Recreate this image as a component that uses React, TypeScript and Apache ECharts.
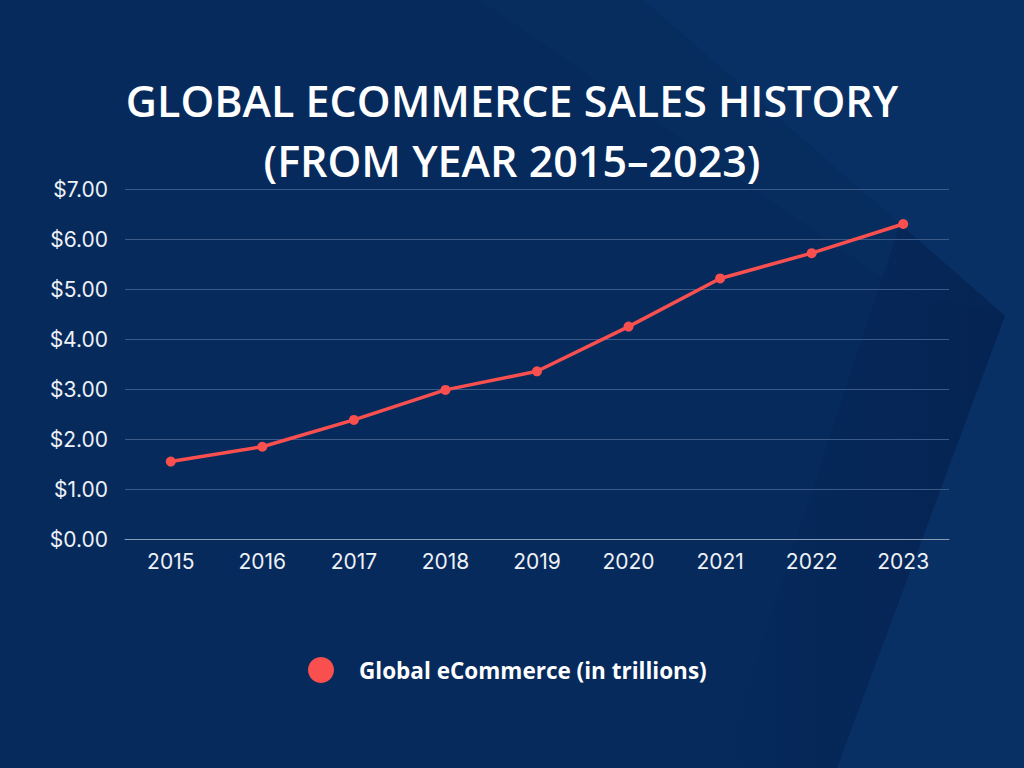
import React, { useEffect, useRef } from "react";
import * as echarts from "echarts";

const years = ["2015", "2016", "2017", "2018", "2019", "2020", "2021", "2022", "2023"];
const sales = [1.548, 1.845, 2.382, 2.982, 3.354, 4.248, 5.211, 5.717, 6.3];
const seriesName = "Global eCommerce (in trillions)";
const titleText = "GLOBAL ECOMMERCE SALES HISTORY\n(FROM YEAR 2015–2023)";

export default function App() {
  const ref = useRef<HTMLDivElement>(null);
  useEffect(() => {
    if (!ref.current) return;
    const chart = echarts.init(ref.current, null, { renderer: "svg" });
    chart.setOption({
      animation: false,
      backgroundColor: "#062a5c",
      graphic: [
        {
          type: "polygon",
          silent: true,
          z: -10,
          shape: { points: [[643, 0], [1024, 0], [1024, 768], [837, 768], [1005, 316]] },
          style: { fill: "#093064" },
        },
        {
          type: "polygon",
          silent: true,
          z: -9,
          shape: { points: [[480, 0], [643, 0], [1005, 316], [900, 290]] },
          style: { fill: "#082d60", opacity: 0.7 },
        },
        {
          type: "polygon",
          silent: true,
          z: -8,
          shape: { points: [[1005, 316], [837, 768], [720, 768], [900, 224]] },
          style: {
            fill: new echarts.graphic.LinearGradient(1, 0, 0, 0, [
              { offset: 0, color: "rgba(3,30,75,0.55)" },
              { offset: 1, color: "rgba(3,30,75,0)" },
            ]),
          },
        },
      ],
      title: {
        text: titleText,
        left: "center",
        top: 65,
        textStyle: {
          color: "#ffffff",
          fontFamily: "Open Sans",
          fontWeight: 600,
          fontSize: 43,
          lineHeight: 60,
        },
      },
      legend: {
        bottom: 80,
        left: 303,
        icon: "circle",
        itemWidth: 26,
        itemHeight: 26,
        data: [seriesName],
        textStyle: {
          color: "#ffffff",
          fontFamily: "Open Sans",
          fontWeight: 700,
          fontSize: 22.5,
          padding: [0, 0, 0, 20],
        },
      },
      grid: { left: 125, right: 75, top: 189, bottom: 229 },
      xAxis: {
        type: "category",
        data: years,
        boundaryGap: true,
        axisLine: { lineStyle: { color: "#8b9cb9", width: 1 } },
        axisTick: { show: false },
        axisLabel: { color: "#eef1f6", fontFamily: "Inter", fontSize: 21, margin: 12 },
      },
      yAxis: {
        type: "value",
        min: 0,
        max: 7,
        interval: 1,
        axisLine: { show: false },
        axisTick: { show: false },
        splitLine: { lineStyle: { color: "#3c5a87", width: 1 } },
        axisLabel: {
          color: "#eef1f6",
          fontFamily: "Inter",
          fontSize: 21,
          margin: 17,
          formatter: (v: number) => "$" + v.toFixed(2),
        },
      },
      series: [
        {
          name: seriesName,
          type: "line",
          data: sales,
          symbol: "circle",
          symbolSize: 10,
          itemStyle: { color: "#f9504f" },
          lineStyle: { color: "#f9504f", width: 3.5 },
        },
      ],
    });
    return () => chart.dispose();
  }, []);
  return <div ref={ref} style={{ position: "fixed", left: 0, top: 0, width: 1024, height: 768 }} />;
}
